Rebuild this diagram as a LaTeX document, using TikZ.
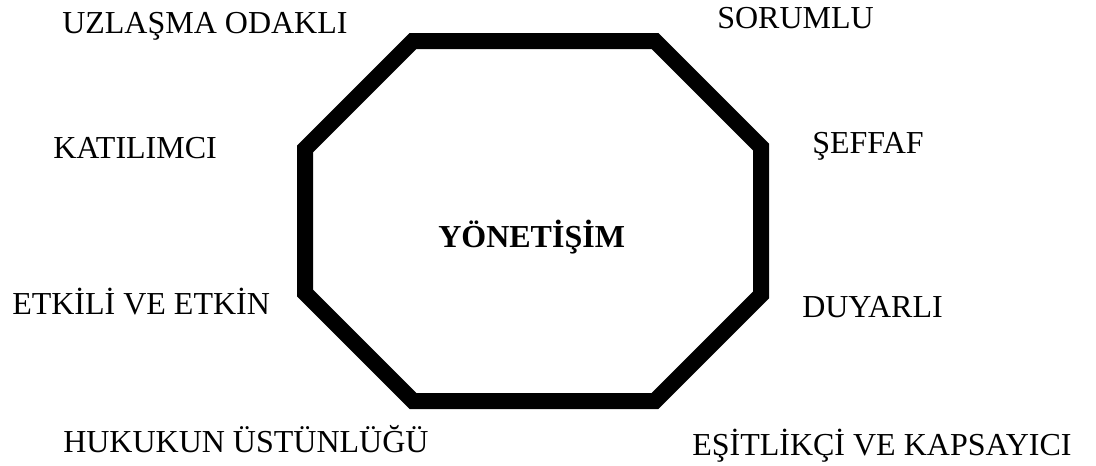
\documentclass[tikz,border=0pt]{standalone}
\usepackage{fontspec}
\setmainfont{Liberation Serif}
\usetikzlibrary{positioning}

\begin{document}
\begin{tikzpicture}[x=0.75pt,y=-0.75pt]
  \tikzset{lab/.style={anchor=base west,inner sep=0pt,font=\fontsize{24}{24}\selectfont},
           octline/.style={line width=12pt,line join=miter}}
  \useasboundingbox (0,0) rectangle (1096,465);
  % octagon corners
  \coordinate (TL) at (413,41);
  \coordinate (TR) at (655,41);
  \coordinate (RT) at (761,147);
  \coordinate (RB) at (761,295);
  \coordinate (BR) at (655,401);
  \coordinate (BL) at (413,401);
  \coordinate (LB) at (305,293);
  \coordinate (LT) at (305,149);
  \draw[octline] (TL) -- (TR) -- (RT) -- (RB) -- (BR) -- (BL) -- (LB) -- (LT) -- cycle;
  \node[lab,font=\fontsize{24}{24}\selectfont\bfseries] (yon) at (438,247) {YÖNETİŞİM};
  % labels around
  \node[lab] (uzl) at (62,33) {UZLAŞMA ODAKLI};
  \node[lab] (sor) at (717,28) {SORUMLU};
  \node[lab] (kat) at (53,158) {KATILIMCI};
  \node[lab] (sef) at (812,153) {ŞEFFAF};
  \node[lab] (etk) at (12,314) {ETKİLİ VE ETKİN};
  \node[lab] (duy) at (802,317) {DUYARLI};
  \node[lab] (huk) at (63,452) {HUKUKUN ÜSTÜNLÜĞÜ};
  \node[lab] (esi) at (692,455) {EŞİTLİKÇİ VE KAPSAYICI};
\end{tikzpicture}
\end{document}
